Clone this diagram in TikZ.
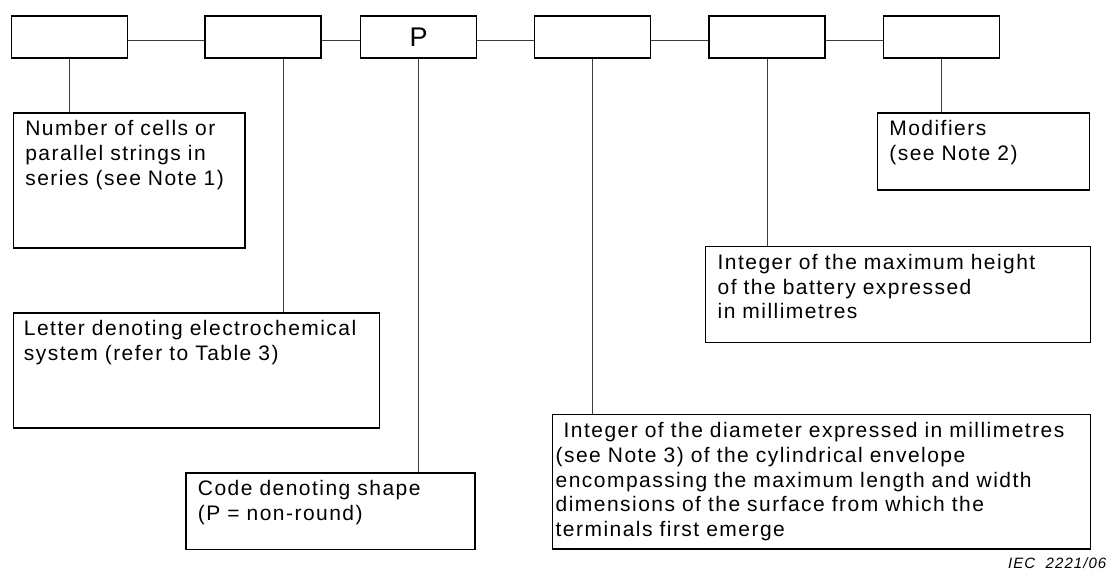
\documentclass[tikz,border=0pt]{standalone}
\usepackage{fontspec}
\setmainfont{Liberation Sans}[LetterSpace=7]
\usepackage{xcolor}
\usetikzlibrary{positioning}
\definecolor{linkcolor}{RGB}{60,60,60}

\begin{document}
\begin{tikzpicture}[x=1pt, y=-1pt, node distance=57pt, every node/.style={font=\fontsize{21}{24.7}\selectfont},
  codebox/.style={draw, line width=1.3pt, minimum width=116pt, minimum height=42pt, inner sep=0pt},
  notebox/.style={draw, line width=1.3pt, anchor=north west, align=left, inner xsep=12pt, inner ysep=0pt, text height=23pt},
  link/.style={draw=linkcolor, line width=0.9pt}]
\useasboundingbox (0,0) rectangle (1107,571);
\node[codebox](cells) at (69.8,37.1){};
\node[codebox,right=75.8pt of cells](chem){};
\node[codebox,right=38.3pt of chem,font=\fontsize{27}{30}\selectfont](shape){P};
\node[codebox,right=of shape](diam){};
\node[codebox,right=of diam](height){};
\node[codebox,right=of height](mods){};
\node[notebox,text width=207.6pt,text depth=112pt](cellsnote) at (12.7,112.3){Number of cells or\\parallel strings in\\series (see Note 1)};
\node[notebox,inner xsep=10.6pt,text width=344.8pt,text depth=92pt](chemnote) at (12.7,312.3){Letter denoting electrochemical\\system (refer to Table 3)};
\node[notebox,text width=265pt,text depth=53.7pt](shapenote) at (185.3,472.3){Code denoting shape\\(P = non-round)};
\node[notebox,inner xsep=3.3pt,text width=531.4pt,text depth=111.3pt](diamnote) at (551.7,414){\hspace*{8pt}Integer of the diameter expressed in millimetres\\(see Note 3) of the cylindrical envelope\\encompassing the maximum length and width\\dimensions of the surface from which the\\terminals first emerge};
\node[notebox,text width=361pt,text depth=73pt](heightnote) at (705,245.7){Integer of the maximum height\\of the battery expressed\\in millimetres};
\node[notebox,text width=188.3pt,text depth=54pt](modsnote) at (876.7,112.3){Modifiers\\(see Note 2)};
\node[font=\fontsize{15}{17}\selectfont\itshape,anchor=base west,inner sep=0pt](iec) at (1008,568){IEC\ \ 2221/06};
\draw[link]([yshift=-3.7pt]cells.east)--([yshift=-3.7pt]chem.west); \draw[link]([yshift=-3.7pt]chem.east)--([yshift=-3.7pt]shape.west);
\draw[link]([yshift=-3.7pt]shape.east)--([yshift=-3.7pt]diam.west); \draw[link]([yshift=-3.7pt]diam.east)--([yshift=-3.7pt]height.west);
\draw[link]([yshift=-3.7pt]height.east)--([yshift=-3.7pt]mods.west);
\draw[link](cells.south)--(cells.south|-cellsnote.north); \draw[link]([xshift=21pt]chem.south)--([xshift=21pt]chem.south|-chemnote.north);
\draw[link](shape.south)--(shape.south|-shapenote.north); \draw[link](diam.south)--(diam.south|-diamnote.north);
\draw[link](height.south)--(height.south|-heightnote.north); \draw[link](mods.south)--(mods.south|-modsnote.north);
\end{tikzpicture}
\end{document}
